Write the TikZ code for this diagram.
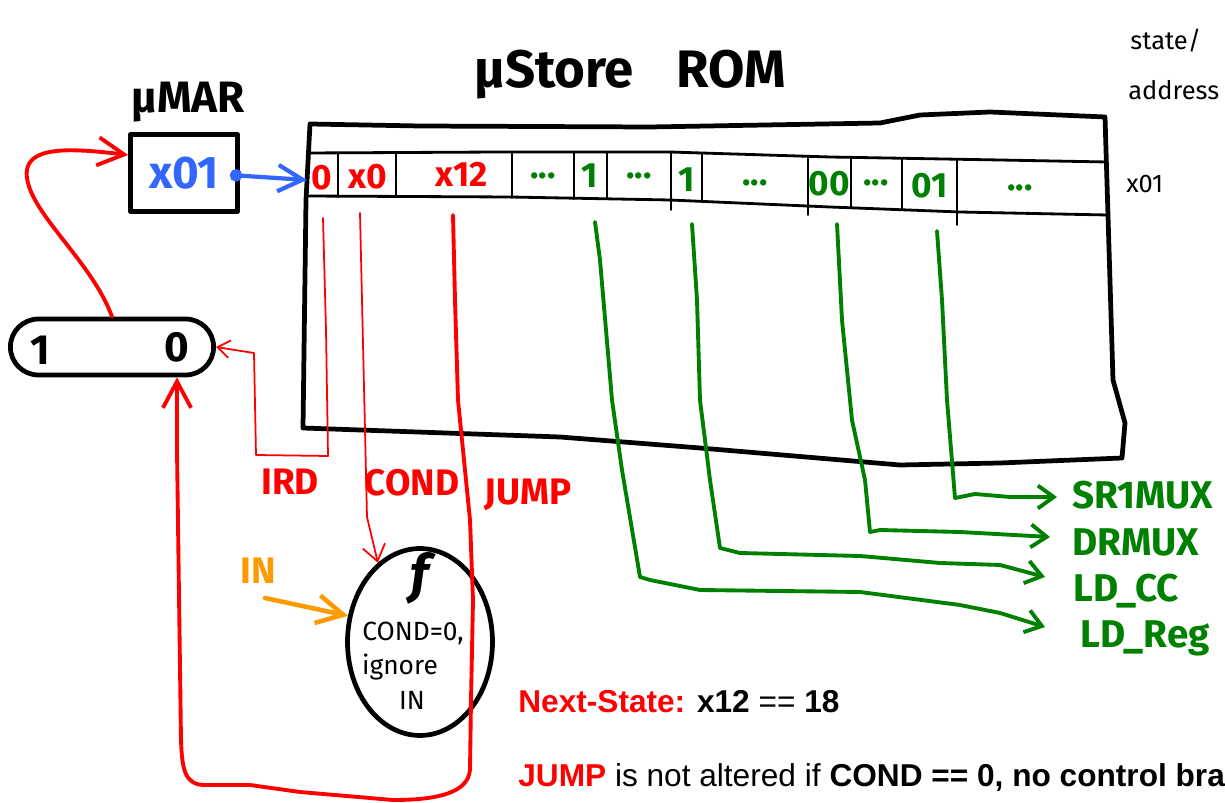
\documentclass[tikz,border=0pt]{standalone}
\usepackage{fontspec}
\setmainfont{Fira Sans}
\newfontfamily\helv{Liberation Sans}
\usetikzlibrary{arrows.meta,shapes.geometric,shapes.misc,calc}
\definecolor{hred}{RGB}{255,0,0}
\definecolor{hblue}{RGB}{51,102,255}
\definecolor{hgreen}{RGB}{0,128,0}
\definecolor{horange}{RGB}{255,153,0}
\begin{document}
\begin{tikzpicture}[x=0.02cm,y=-0.02cm,line cap=round,line join=round,
  wall/.style={draw=black,line width=2.7pt},
  rowline/.style={draw=black,line width=1.6pt},
  cellsep/.style={draw=black,line width=0.9pt},
  bigbarb/.style={-{Straight Barb[length=15pt,width=16pt]}},
  medbarb/.style={-{Straight Barb[length=9pt,width=13pt]}},
  smallbarb/.style={-{Straight Barb[length=7pt,width=10pt]}},
  redthick/.style={draw=hred,line width=2.2pt},
  redthin/.style={draw=hred,line width=1pt},
  grn/.style={draw=hgreen,line width=2.2pt},
  hand/.style={font=\bfseries\fontsize{21}{24}\selectfont},
  cell/.style={font=\bfseries\fontsize{20}{22}\selectfont,inner sep=1pt},
  redcell/.style={cell,text=hred},
  grncell/.style={cell,text=hgreen},
  glabel/.style={font=\bfseries\fontsize{22}{24}\selectfont,text=hgreen,anchor=west,inner sep=0pt,text depth=0pt},
  rlabel/.style={hand,text=hred},
  thin/.style={font=\fontsize{14.5}{17}\selectfont,inner sep=0pt},
  ftext/.style={font=\fontsize{15}{17}\selectfont,inner sep=0pt},
  bottom/.style={font=\helv\fontsize{18}{20}\selectfont,anchor=base west,inner sep=0pt}]
\useasboundingbox (0,0) rectangle (1225,803);

% titles
\node[font=\bfseries\fontsize{30}{34}\selectfont,anchor=base west,inner sep=0pt] (title) at (474,88) {µStore\hspace{0.8em}ROM};
\node[font=\bfseries\fontsize{25}{28}\selectfont,anchor=base,inner sep=0pt] (marlbl) at (188,113) {µMAR};
\node[thin,anchor=base west] (sa1) at (1130,50) {state/};
\node[thin,anchor=base west] (sa2) at (1128,100) {address};
\node[thin,anchor=base west] (xaddr) at (1126,193) {x01};

% uMAR box
\node[draw,line width=2.7pt,minimum width=2.14cm,minimum height=1.54cm,inner sep=0pt,
      font=\bfseries\fontsize{26}{28}\selectfont,text=hblue] (mar) at (184,173) {x01};

% ROM outline
\draw[wall] (310,124) -- (420,126) -- (650,127) -- (880,123) -- (920,115) -- (990,112) -- (1105,117)
  -- (1113,380) -- (1125,423) -- (1122,458) -- (1000,463) -- (900,465) -- (700,448) -- (560,437)
  -- (303,428) -- (306,200) -- cycle;
% ROM row
\draw[rowline] (308,153) -- (500,152) -- (670,152) -- (830,157) -- (1000,160) -- (1107,162);
\draw[rowline] (306,196) -- (510,197) -- (670,200) -- (830,207) -- (960,212) -- (1107,215);
\foreach \x/\t/\b in {338/153/197,396/153/197,512/152/198,574/152/199,607/152/199,671/152/210,
                      702/153/201,808/156/215,851/158/208,902/159/210,957/160/225}
  \draw[cellsep] (\x,\t) -- (\x,\b);

% row cells
\node[redcell] (c1) at (322,178) {0};
\node[redcell] (c2) at (368,177) {x0};
\node[redcell] (c3) at (462,174) {x12};
\node[grncell] (c4) at (543,176) {...};
\node[grncell] (c5) at (590,176) {1};
\node[grncell] (c6) at (639,176) {...};
\node[grncell] (c7) at (687,180) {1};
\node[grncell] (c8) at (755,183) {...};
\node[grncell] (c9) at (829,184) {00};
\node[grncell] (c10) at (876,183) {...};
\node[grncell] (c11) at (930,186) {01};
\node[grncell] (c12) at (1020,188) {...};

% mux
\node[rounded rectangle,draw,line width=2.7pt,minimum width=4.3cm,minimum height=1.12cm] (mux) at (112,347) {};
\node[font=\bfseries\fontsize{24}{26}\selectfont] (m1) at (40,350) {1};
\node[font=\bfseries\fontsize{24}{26}\selectfont] (m0) at (177,347) {0};

% f block
\node[ellipse,draw,line width=2.7pt,minimum width=2.9cm,minimum height=3.74cm] (fn) at (420,642) {};
\node[font=\bfseries\itshape\fontsize{30}{32}\selectfont] (fsym) at (420,578) {f};
\node[ftext] (fl1) at (413,633) {COND=0,};
\node[ftext] (fl2) at (400,667) {ignore};
\node[ftext] (fl3) at (412,700) {IN};

% labels
\node[rlabel] (ird) at (290,482) {IRD};
\node[rlabel] (cond) at (412,483) {COND};
\node[rlabel] (jump) at (528,495) {JUMP};
\node[hand,text=horange] (inlbl) at (258,571) {IN};
\node[glabel] (sr) at (1072,495) {SR1MUX};
\node[glabel] (dr) at (1072,542) {DRMUX};
\node[glabel] (ldcc) at (1073,588) {LD\_CC};
\node[glabel] (ldreg) at (1080,634) {LD\_Reg};

% free ends
\coordinate (romin) at (307,180);
\coordinate (ird0) at (323,218);
\coordinate (cond0) at (360,213);
\coordinate (jump0) at (453,215);
\coordinate (in0) at (265,598);
\coordinate (gA) at (595,222);
\coordinate (gB) at (692,224);
\coordinate (gC) at (837,224);
\coordinate (gD) at (937,231);

% blue: uMAR -> ROM
\draw[draw=hblue,line width=2.4pt,{Circle[length=7pt]}-{Straight Barb[length=14pt,width=15pt]}]
  ($(mar.east)+(-10,2)$) -- (romin);

% red: mux -> uMAR
\draw[redthick,bigbarb] (mux.north) .. controls (92,262) and (32,215) .. (27,178)
  .. controls (22,145) and (70,148) .. ($(mar.west)+(0,-18)$);

% IRD
\draw[redthin,smallbarb] (ird0) -- (326,330) -- (328,456) -- (256,455) -- (254,353) -- (mux.east);
% COND
\draw[redthin,medbarb] (cond0) -- (362,300) -- (367,517) -- (fn.118);
% JUMP
\draw[redthick,bigbarb] (jump0) -- (455,300) -- (458,400) -- (470,520) -- (473,600) -- (471,700)
  -- (470,770) .. controls (468,792) and (440,800) .. (393,800) -- (300,792) -- (250,785) -- (205,785)
  .. controls (185,785) and (182,770) .. (181,740) -- (177,450) -- (m0 |- mux.south);
% IN
\draw[draw=horange,line width=2.6pt,bigbarb] (in0) -- (fn.160);

% green control lines
\draw[grn,medbarb] (gA) -- (600,260) -- (612,400) -- (622,470) -- (640,577) -- (650,580) -- (700,590)
  -- (860,592) -- (960,605) -- (1000,613) -- ($(ldreg.west)+(-35,-7)$);
\draw[grn,medbarb] (gB) -- (697,300) -- (700,400) -- (710,480) -- (720,548) -- (740,553) -- (860,556)
  -- (940,563) -- (1000,565) -- ($(ldcc.west)+(-28,-11)$);
\draw[grn,medbarb] (gC) -- (842,320) -- (852,420) -- (865,480) -- (870,532) -- (880,530) -- (960,532)
  -- ($(dr.west)+(-22,-5)$);
\draw[grn,medbarb] (gD) -- (942,300) -- (947,400) -- (955,498) -- (975,494) -- (1010,497)
  -- ($(sr.west)+(-15,2)$);

% bottom notes
\node[bottom] (ns) at (518,713) {\textcolor{hred}{\bfseries Next-State:} \textbf{x12} == \textbf{18}};
\node[bottom] (jn) at (518,787) {\textcolor{hred}{\bfseries JUMP} is not altered if \textbf{COND == 0, no control bra}};
\end{tikzpicture}
\end{document}
